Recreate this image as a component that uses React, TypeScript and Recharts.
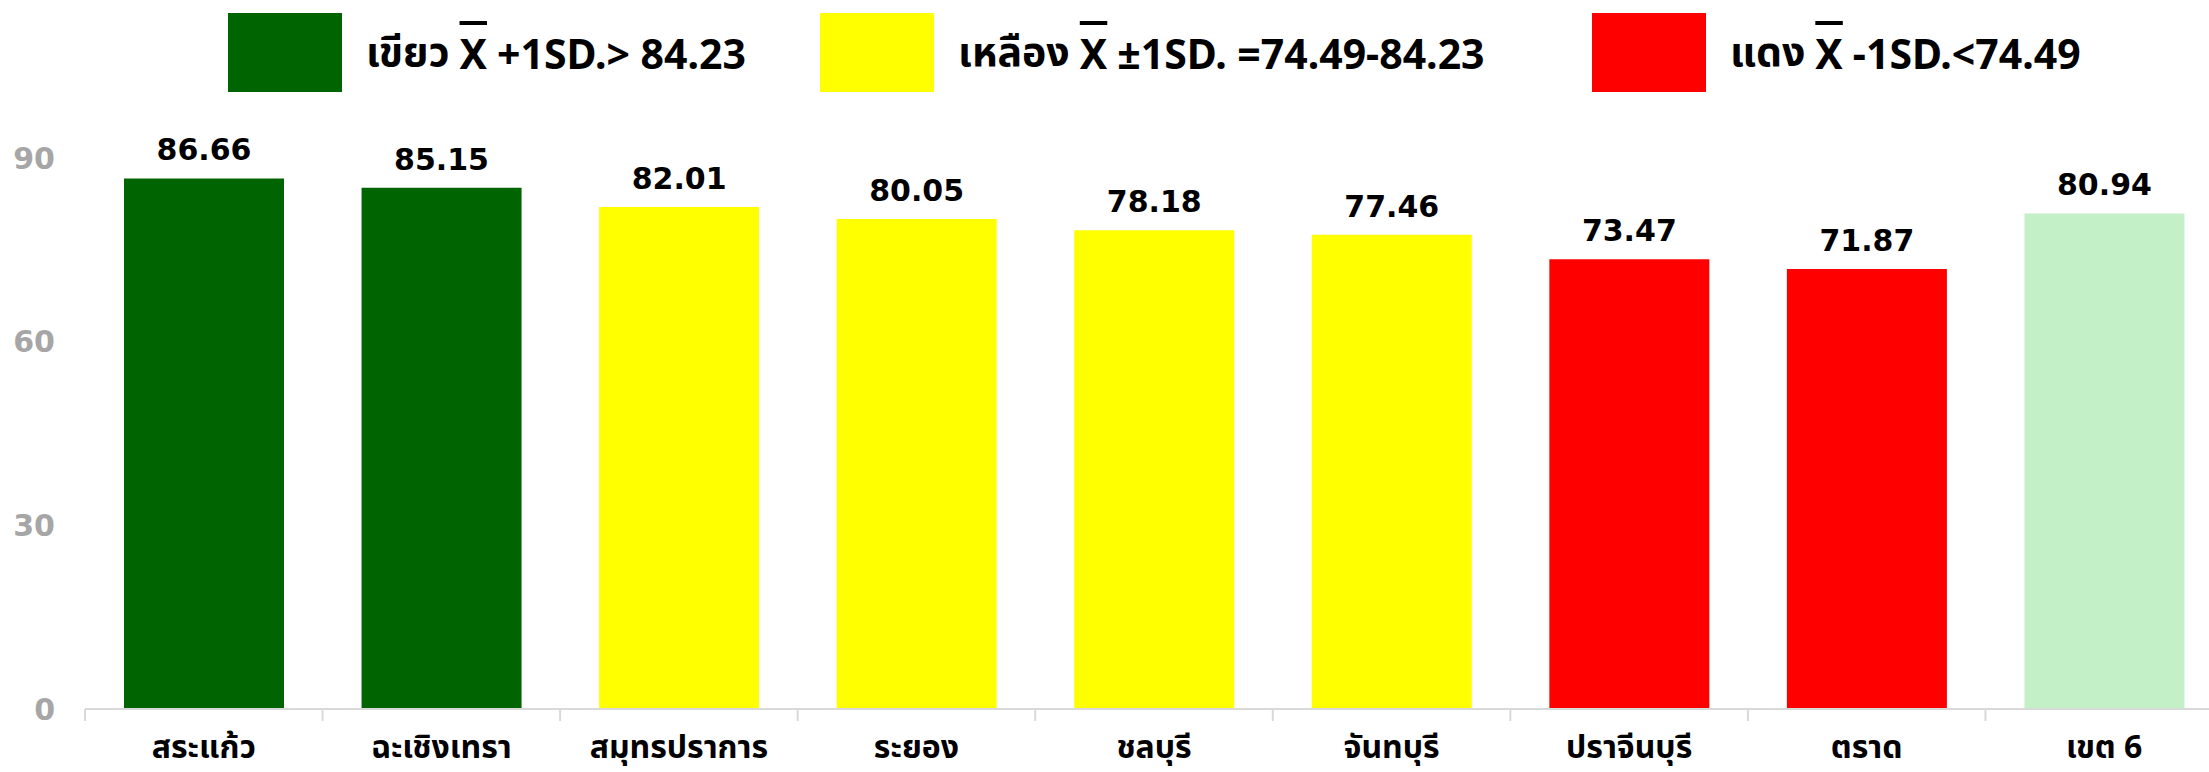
import React from 'react'
import { BarChart, Bar, XAxis, YAxis, Cell, LabelList } from 'recharts'

const categories = ['สระแก้ว', 'ฉะเชิงเทรา', 'สมุทรปราการ', 'ระยอง', 'ชลบุรี', 'จันทบุรี', 'ปราจีนบุรี', 'ตราด', 'เขต 6']
const scores = [86.66, 85.15, 82.01, 80.05, 78.18, 77.46, 73.47, 71.87, 80.94]
const barColors = ['#006400', '#006400', '#FFFF00', '#FFFF00', '#FFFF00', '#FFFF00', '#FF0000', '#FF0000', '#C4F0C8']
const yTicks = [0, 30, 60, 90]

const legendNames = ['เขียว', 'เหลือง', 'แดง']
const legendRules = ['+1SD.> 84.23', '±1SD. =74.49-84.23', '-1SD.<74.49']
const legendColors = ['#006400', '#FFFF00', '#FF0000']

// layout
const W = 2209
const H = 772
const CHART_W = 2223
const Y_AXIS_W = 85
const X_AXIS_H = 63
const TOP = 158
const legendLeft = [228, 820, 1592]

const thaiFont = "Tahoma, 'Noto Sans', 'Noto Sans Thai', 'DejaVu Sans', sans-serif"
const numFont = "'DejaVu Sans', Verdana, sans-serif"

const data = categories.map((name, i) => ({ name, score: scores[i] }))

function CategoryTick(props: any) {
  const { x, y, payload, index } = props
  const half = payload && payload.offset ? payload.offset : (CHART_W - Y_AXIS_W) / categories.length / 2
  return (
    <g>
      <line x1={x - half} x2={x - half} y1={y} y2={y + 12} stroke="#D9D9D9" strokeWidth={2} />
      {index === categories.length - 1 && (
        <line x1={x + half} x2={x + half} y1={y} y2={y + 12} stroke="#D9D9D9" strokeWidth={2} />
      )}
      <text x={x} y={y + 49} textAnchor="middle" fill="#000" fontFamily={thaiFont} fontWeight="bold" fontSize={32}>
        {payload.value}
      </text>
    </g>
  )
}

function LegendRow() {
  return (
    <div style={{ position: 'absolute', left: 0, top: 0, width: W, height: 100 }}>
      {legendNames.map((n, i) => (
        <div
          key={n}
          style={{
            position: 'absolute',
            left: legendLeft[i],
            top: 13,
            height: 79,
            display: 'flex',
            alignItems: 'center',
            fontFamily: thaiFont,
            fontWeight: 'bold',
            fontSize: 41,
            whiteSpace: 'nowrap',
            color: '#000'
          }}
        >
          <div style={{ width: 114, height: 79, background: legendColors[i], marginRight: 24 }} />
          <span>{n}</span>
          <span style={{ textDecoration: 'overline', margin: '0 10px' }}>X</span>
          <span>{legendRules[i]}</span>
        </div>
      ))}
    </div>
  )
}

export default function App() {
  return (
    <div style={{ position: 'absolute', left: 0, top: 0, width: W, height: H, overflow: 'hidden', background: '#fff' }}>
      <LegendRow />
      <BarChart
        width={CHART_W}
        height={H}
        data={data}
        margin={{ top: TOP, right: 0, left: 0, bottom: 0 }}
        style={{ position: 'absolute', left: 0, top: 0 }}
      >
        <XAxis
          dataKey="name"
          height={X_AXIS_H}
          interval={0}
          axisLine={{ stroke: '#D9D9D9', strokeWidth: 2 }}
          tickLine={false}
          tickSize={0}
          tickMargin={0}
          tick={<CategoryTick />}
        />
        <YAxis
          width={Y_AXIS_W}
          domain={[0, 90]}
          ticks={yTicks}
          axisLine={false}
          tickLine={false}
          tickMargin={24}
          tick={{ fill: '#A6A6A6', fontSize: 30, fontWeight: 'bold', fontFamily: numFont }}
        />
        <Bar dataKey="score" barSize={160} isAnimationActive={false}>
          {data.map((d, i) => (
            <Cell key={d.name} fill={barColors[i]} />
          ))}
          <LabelList
            dataKey="score"
            position="top"
            offset={18}
            formatter={(v: any) => Number(v).toFixed(2)}
            style={{ fill: '#000', fontSize: 30, fontWeight: 'bold', fontFamily: numFont }}
          />
        </Bar>
      </BarChart>
    </div>
  )
}
